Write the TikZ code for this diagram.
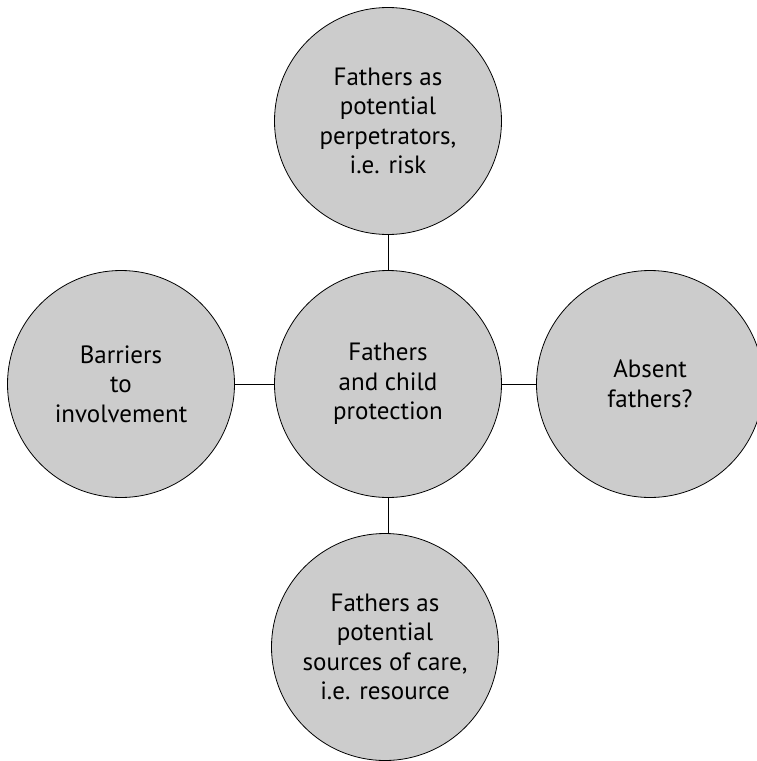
\documentclass[tikz,border=0pt]{standalone}
\usepackage{fontspec}
\setmainfont{PT Sans}

\begin{document}
\begin{tikzpicture}[x=1pt,y=-1pt,
    topic/.style={circle, draw=black, fill=black!20, line width=0.8pt,
        minimum size=227pt, inner sep=0pt, align=center,
        font=\fontsize{25}{29.5}\selectfont}]
    \useasboundingbox (0,0) rectangle (756,761);

    % Circles
    \node [topic] (risk) at (388,121) {Fathers as\\potential\\perpetrators,\\i.e. risk};
    \node [topic] (centre) at (388,384) {Fathers\\and child\\protection};
    \node [topic] (barriers) at (121,384) {Barriers\\to\\involvement};
    \node [topic] (absent) at (650,384) {Absent\\fathers?};
    \node [topic] (resource) at (385,647) {Fathers as\\potential\\sources of care,\\i.e. resource};

    % Links
    \draw (centre) -- (risk);
    \draw (centre) -- (barriers);
    \draw (centre) -- (absent);
    \draw (centre.south) -- (centre.south |- resource.north);

\end{tikzpicture}
\end{document}
